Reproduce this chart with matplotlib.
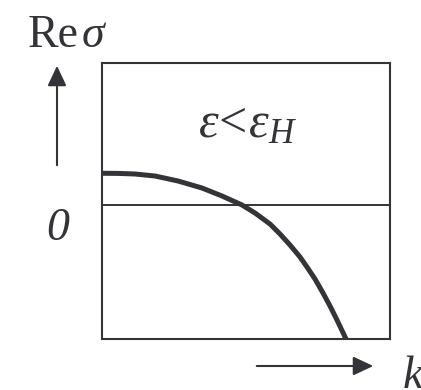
import matplotlib
matplotlib.use('Agg')
import matplotlib.pyplot as plt
from matplotlib.patches import FancyArrowPatch

plt.rcParams.update({
    'font.family': 'Liberation Serif',
    'mathtext.fontset': 'custom',
    'mathtext.rm': 'Liberation Serif',
    'mathtext.it': 'Liberation Serif:italic',
})

INK = '#343438'

# dispersion curve Re(sigma) vs k, below threshold
k = [0.0, 0.16, 0.33, 0.53, 0.76, 1.00, 1.20, 1.40, 1.53, 1.68, 1.78, 1.88,
     1.98, 2.05, 2.13, 2.21, 2.28, 2.35, 2.44]
re_sigma = [0.317, 0.316, 0.31, 0.29, 0.24, 0.17, 0.09, 0.0, -0.08, -0.19,
            -0.29, -0.40, -0.52, -0.62, -0.74, -0.88, -1.01, -1.15, -1.34]

fig = plt.figure(figsize=(4.21, 3.90), dpi=100)
ax = fig.add_axes([102/421, 51/390, 288/421, 276/390])
ax.plot(k, re_sigma, color=INK, lw=3.6, solid_capstyle='butt', solid_joinstyle='round')
ax.axhline(0, color=INK, lw=1.4)
ax.set_xlim(0, 2.88)
ax.set_ylim(-1.34, 1.42)
ax.set_xticks([]); ax.set_yticks([])
for s in ax.spines.values():
    s.set_linewidth(1.5)
    s.set_color(INK)

fig.text(198/421, 1-137/390, r'$\varepsilon\!<\!\varepsilon_H$', fontsize=36,
         color=INK, ha='left', va='baseline')

# axis arrows
arrow = dict(arrowstyle='-|>,head_length=0.85,head_width=0.4', color=INK, lw=1.5,
             mutation_scale=14.4, transform=None)
fig.add_artist(FancyArrowPatch((57, 390-168), (57, 390-63), **arrow))
fig.add_artist(FancyArrowPatch((254, 390-366), (376, 390-366), **arrow))

fig.text(28/421, 1-47/390, 'Re', fontsize=33, color=INK, ha='left', va='baseline')
fig.text(82/421, 1-47/390, 'σ', fontsize=33, color=INK, ha='left', va='baseline',
         style='italic')
fig.text(58/421, 1-240/390, '0', fontsize=33, color=INK, ha='center', va='baseline',
         style='italic')
fig.text(403/421, 1-388/390, 'k', fontsize=33, color=INK, ha='left', va='baseline',
         style='italic')

fig.savefig('out.png', dpi=100)
